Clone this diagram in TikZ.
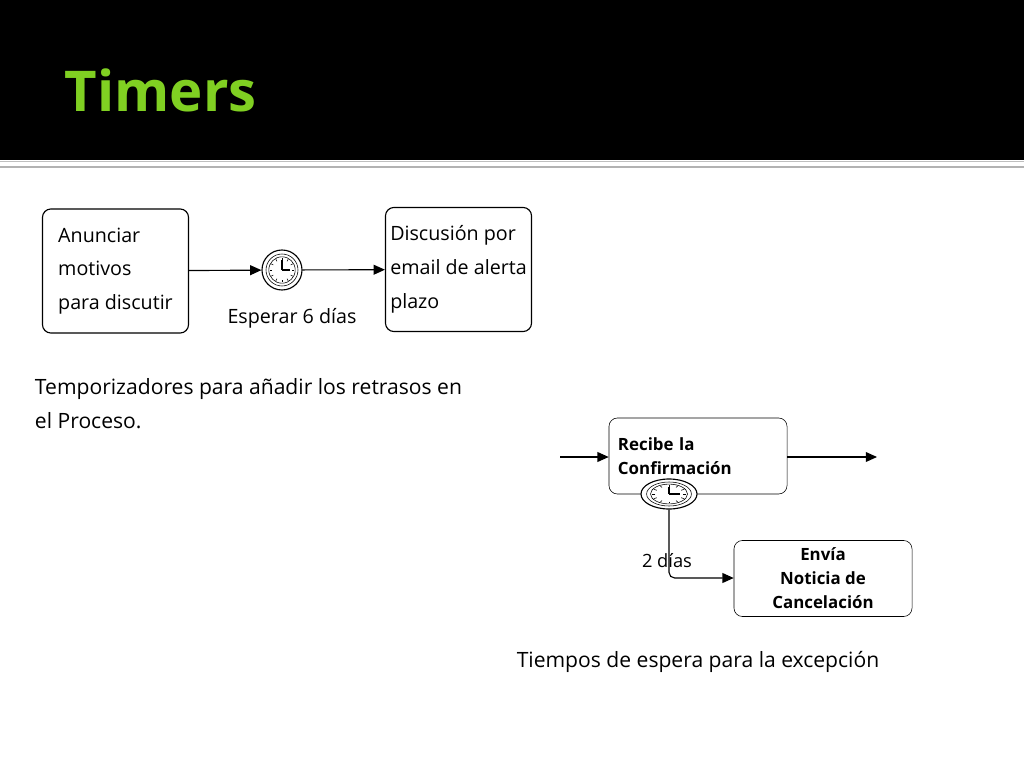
\documentclass[tikz,border=0pt]{standalone}
\usepackage{fontspec}
\setmainfont{Open Sans}
\usetikzlibrary{arrows.meta, positioning, shapes.geometric}
\definecolor{titlegreen}{HTML}{80D022}

% clock icon: #1 name, #2 x radius, #3 y radius (in px)
\newcommand{\timerclock}[3]{%
  \node[draw, thick, ellipse, fill=white, minimum width={#2*0.05cm}, minimum height={#3*0.05cm}, inner sep=0pt] (#1) {};
  \node[draw, ellipse, minimum width={#2*0.04cm}, minimum height={#3*0.04cm}, inner sep=0pt] at (#1) {};
  \node[draw, ellipse, minimum width={#2*0.033cm}, minimum height={#3*0.033cm}, inner sep=0pt] at (#1) {};
  \foreach \a in {0,30,...,330}
    \draw ([shift={(\a:{#2*0.5} and {#3*0.5})}]#1.center) -- ([shift={(\a:{#2*0.62} and {#3*0.62})}]#1.center);
  \draw[thick] (#1.center) -- ++(0,{-#3*0.5}) (#1.center) -- ++({#2*0.4},0);
}

\begin{document}
\begin{tikzpicture}[x=0.025cm, y=-0.025cm,
    task/.style={rectangle, rounded corners=6pt, draw, thick, minimum width=3.65cm, minimum height=3.1cm, align=left, font=\fontsize{14}{24}\selectfont},
    bpmn/.style={rectangle, rounded corners=6pt, draw, minimum width=4.45cm, minimum height=1.9cm, font=\bfseries\fontsize{12}{17}\selectfont},
    arrow/.style={-{Triangle[length=8pt, width=7pt]}, thick},
    body/.style={font=\fontsize{15}{24}\selectfont}
]

\path[use as bounding box] (0,0) rectangle (1024,768);
\fill[black] (0,0) rectangle (1024,160);
\fill[gray!50] (0,161) rectangle (1024,162);
\fill[gray!60] (0,166) rectangle (1024,168);

\node[text=titlegreen, font=\bfseries\fontsize{40}{40}\selectfont, anchor=west] (title) at (60,90) {Timers};

% upper process
\node[task] (anunciar) at (115.5,271) {Anunciar\\motivos\\para discutir};
\node[task] (discusion) at (458.5,269.5) {Discusión por\\email de alerta\\plazo};
\begin{scope}[shift={(282,270)}]
\timerclock{reloj}{20}{20}
\end{scope}
\node[font=\fontsize{14}{14}\selectfont] (esperar) at (292,318) {Esperar 6 días};
\draw[arrow] (anunciar) -- (reloj);
\draw[arrow] (reloj) -- (discusion);

\node[body, anchor=north west, align=left] (temporizadores) at (30,374) {Temporizadores para añadir los retrasos en\\el Proceso.};

% lower process
\node[bpmn, align=left, text width=4cm] (recibe) at (698,456) {Recibe la\\Confirmación};
\node[bpmn, align=center] (envia) at (823,578.5) {Envía\\Noticia de\\Cancelación};
\coordinate (entrada) at (560,457);
\coordinate (salida) at (877,457);
\draw[arrow] (entrada) -- (recibe.west |- entrada);
\draw[arrow] (recibe.east |- salida) -- (salida);
\begin{scope}[shift={(669,494)}]
\timerclock{reloj2}{28}{15}
\end{scope}
\draw[arrow, rounded corners=4pt] (reloj2.south) |- (envia.west |- 0,578);
\node[font=\fontsize{13}{13}\selectfont] (dias) at (667,561) {2 días};

\node[body] (tiempos) at (698,662) {Tiempos de espera para la excepción};

\end{tikzpicture}
\end{document}
